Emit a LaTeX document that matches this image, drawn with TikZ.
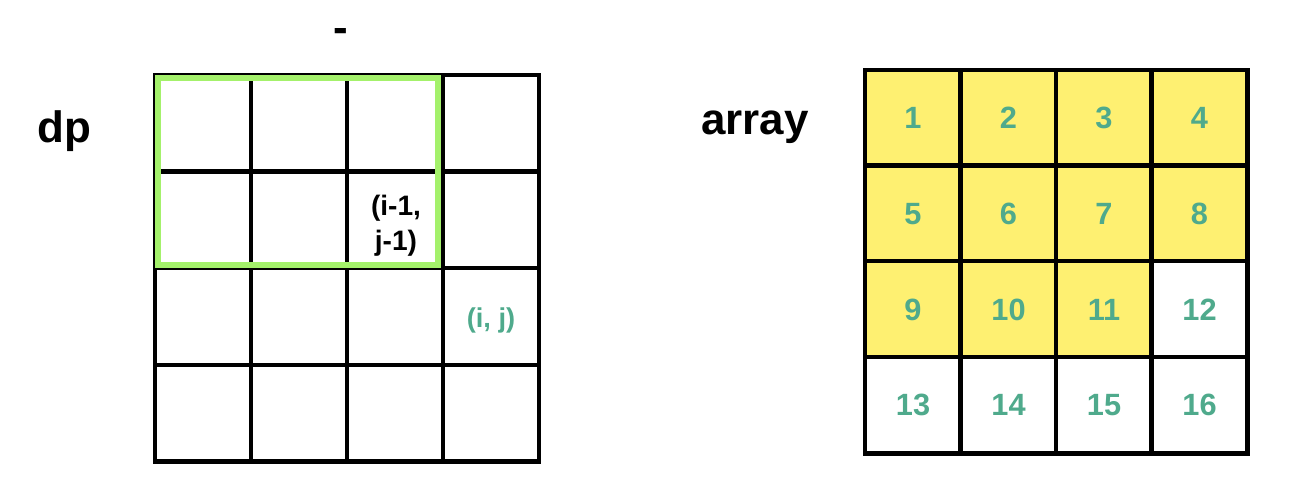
\documentclass[tikz,border=0pt]{standalone}
\usepackage{fontspec}
\setmainfont{Liberation Sans}
\usetikzlibrary{positioning}
\definecolor{cellyellow}{HTML}{FEF071}
\definecolor{numteal}{HTML}{4FAA8C}
\definecolor{windowgreen}{HTML}{A4F16B}

\begin{document}
\begin{tikzpicture}[x=0.02cm, y=-0.02cm]
    \tikzstyle{cell}=[draw, line width=2.5pt, minimum width=1.92cm, minimum height=1.93cm, inner sep=0pt, font=\bfseries\fontsize{17.5pt}{20pt}\selectfont, text=numteal]
    \tikzstyle{title}=[font=\bfseries\fontsize{25pt}{30pt}\selectfont, anchor=base]
    \tikzstyle{index}=[font=\bfseries\fontsize{16pt}{20pt}\selectfont, align=center]
    \useasboundingbox (0,0) rectangle (1316,490);

    % labels
    \node[title] (dash) at (341,42) {-};
    \node[title] (dp) at (64,142) {dp};
    \node[title] (arr) at (755,134) {array};

    % dp table
    \foreach \r in {0,...,3}
      \foreach \c in {0,...,3}
        \node[cell] (d\r\c) at (203+96*\c, 123+96.75*\r) {};

    % window over the previous cells
    \draw[windowgreen, line width=3.4pt] ([shift={(5,5)}]d00.north west) rectangle ([shift={(-7,-5)}]d12.south east);

    \node[index] (prev) at ([shift={(1,6)}]d12) {(i-1,\\j-1)};
    \node[index, font=\bfseries\fontsize{15.5pt}{20pt}\selectfont, text=numteal] (cur) at ([shift={(0,4)}]d23) {(i, j)};

    % array table
    \foreach \r in {0,...,3}
      \foreach \c in {0,...,3} {
        \pgfmathtruncatemacro{\k}{4*\r+\c+1}
        \ifnum\k<12 \def\fillc{cellyellow}\else\def\fillc{white}\fi
        \node[cell, fill=\fillc] (a\r\c) at (913+95.5*\c, 118+95.75*\r) {\k};
      }
\end{tikzpicture}
\end{document}
